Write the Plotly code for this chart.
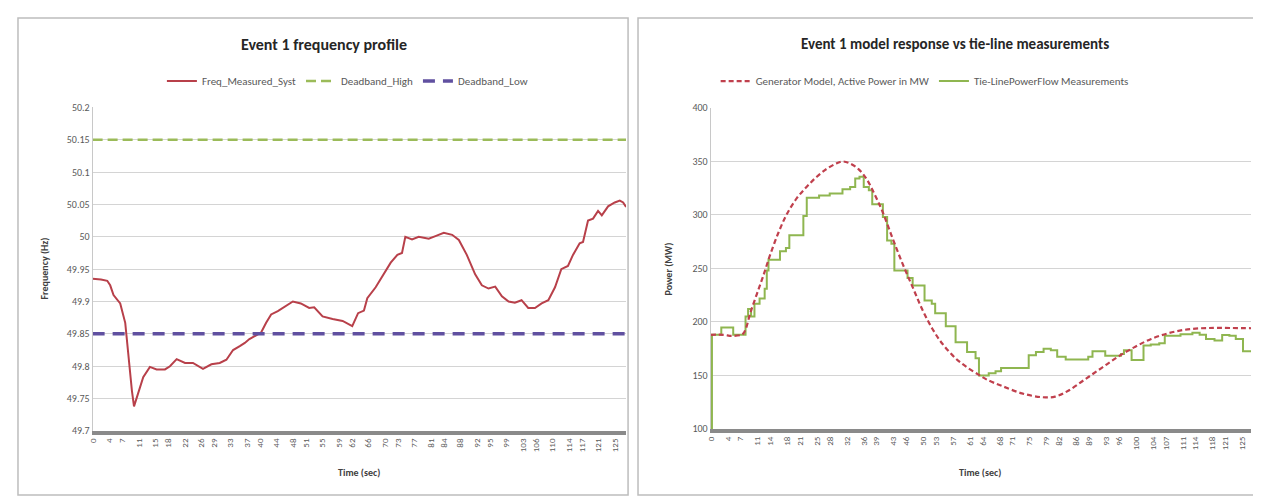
import plotly.graph_objects as go

W, H = 1261, 497

# ---------------- data: left chart (frequency) ----------------
freq_time = [0, 2, 3.5, 4.2, 5, 6.6, 7.8, 8.6, 9.4, 9.9, 10.9, 12.1, 13.7, 15.3, 17.3, 18.5,
             20.1, 22.1, 24.0, 26.4, 28.4, 30.4, 32, 33.6, 35.2, 36.4, 37.5, 39.1, 40.3, 41.5,
             42.7, 44.3, 46.3, 47.9, 49.8, 51.8, 53, 55, 57.4, 59.8, 62.1, 63.5, 64.9, 65.7,
             67.7, 70.1, 71.3, 72.9, 74.0, 74.8, 76.4, 78, 80.4, 82, 84, 86, 87.6, 89.5, 91.5,
             93.1, 94.7, 96.3, 97.9, 99.5, 101, 102.6, 104.2, 105.8, 107.4, 109, 110.6, 112.1,
             113.7, 114.9, 116.5, 117.3, 118.5, 119.7, 120.9, 121.8, 123.3, 124.9, 126.1,
             126.9, 127.6]
freq_measured = [49.935, 49.934, 49.932, 49.925, 49.91, 49.897, 49.867, 49.81, 49.762, 49.738,
                 49.757, 49.783, 49.799, 49.795, 49.795, 49.80, 49.811, 49.805, 49.805, 49.796,
                 49.803, 49.805, 49.81, 49.825, 49.831, 49.836, 49.842, 49.848, 49.852, 49.867,
                 49.88, 49.885, 49.893, 49.90, 49.897, 49.89, 49.891, 49.877, 49.873, 49.87,
                 49.862, 49.882, 49.886, 49.905, 49.922, 49.947, 49.96, 49.972, 49.975, 50.0,
                 49.996, 50.0, 49.997, 50.001, 50.006, 50.003, 49.995, 49.972, 49.942, 49.925,
                 49.92, 49.923, 49.908, 49.90, 49.898, 49.902, 49.89, 49.89, 49.897, 49.902,
                 49.922, 49.95, 49.955, 49.972, 49.99, 49.992, 50.025, 50.028, 50.04, 50.033,
                 50.047, 50.053, 50.056, 50.053, 50.046]
deadband_time = [0, 127.6]
deadband_high = [50.15, 50.15]
deadband_low = [49.85, 49.85]
left_ticks = [0, 4, 7, 11, 15, 18, 22, 26, 29, 33, 37, 40, 44, 48, 51, 55, 59, 62, 66, 70,
              73, 77, 81, 84, 88, 92, 95, 99, 103, 106, 110, 114, 117, 121, 125]
left_yticks = [49.7, 49.75, 49.8, 49.85, 49.9, 49.95, 50.0, 50.05, 50.1, 50.15, 50.2]
left_ytext = ["49.7", "49.75", "49.8", "49.85", "49.9", "49.95", "50", "50.05", "50.1", "50.15", "50.2"]

# ---------------- data: right chart (power) ----------------
model_time = [0, 3, 5, 7.5, 8.2, 9.3, 10.9, 12.5, 14, 16, 17.9, 20.3, 22.6, 24.9, 27.3, 29.6,
              31.1, 32.7, 34.7, 36.6, 38.6, 40.5, 42.8, 45.2, 47.5, 49.8, 52.2, 54.5, 57.6, 60,
              63.1, 65, 68.5, 73.2, 77.9, 81, 84.1, 88, 91.9, 95.8, 99.7, 103.6, 107.5, 111.4,
              115.3, 119.2, 127.1]
model_power = [188, 188, 187, 188.5, 193, 208, 226.5, 244.6, 262.8, 284, 300.6, 315.8, 326.3,
               335.4, 343, 348.1, 349.9, 348.1, 343, 333.9, 318.8, 302.2, 277.9, 253.7, 232.5,
               211.4, 193.2, 179.6, 166, 158.4, 150.5, 146, 140.2, 133.3, 129.7, 130.2, 135.7,
               146.3, 156.9, 167.5, 176.5, 184.1, 189.3, 192.6, 194.1, 194.4, 194.1]
tie_time = [0, 0.3, 2.5, 5.3, 8.2, 8.8, 9.5, 10.3, 11.5, 12.7, 13.2, 13.6, 16.3, 17.7, 18.5,
            21.8, 22.6, 25.5, 28, 31, 32.8, 34, 35, 36, 37.2, 38, 40.5, 41.5, 42.5, 43.2, 46.3,
            47.5, 50.3, 52, 52.8, 55.3, 57.6, 60.3, 62.3, 63.1, 65.4, 67, 68.3, 74.8, 76.5,
            78.3, 80, 81.5, 83.5, 88.8, 89.8, 92.8, 96.5, 97.2, 99, 101.8, 103.5, 105.5, 106.8,
            110.5, 113.3, 115, 116.5, 118.5, 120.3, 122, 123.5, 125.2, 127.1]
tie_power = [100, 188, 194.7, 188, 205, 212, 205, 217, 222, 231, 248, 258, 266, 269, 281,
             299, 316, 318, 320, 324, 326, 334, 335.5, 326, 323, 310, 298, 276, 273, 248, 241,
             234, 220, 217, 208, 196, 181, 172, 166, 150, 152, 154, 157, 169, 172, 175, 173.5,
             167.5, 165, 167.5, 172.6, 168.4, 170, 173.5, 164.5, 178, 179, 180, 187, 188.6,
             190, 188, 184, 182.6, 187.8, 187, 184, 172.6, 172.6]
right_ticks = [0, 4, 7, 11, 14, 18, 21, 25, 28, 32, 36, 39, 43, 46, 50, 53, 57, 61, 64, 68,
               71, 75, 79, 82, 86, 89, 93, 96, 100, 104, 107, 111, 114, 118, 121, 125]
right_yticks = [100, 150, 200, 250, 300, 350, 400]

# ---------------- styling ----------------
FONT = "Carlito, 'Liberation Sans Narrow', 'Liberation Sans', Arial, sans-serif"
TXT = "#595959"
GRID = "#d4d4d4"


def px(x):
    return x / W


def py(y):
    return 1 - y / H


fig = go.Figure()

fig.add_trace(go.Scatter(x=freq_time, y=freq_measured, mode="lines", name="Freq_Measured_Syst",
                         line=dict(color="#B8404A", width=2), xaxis="x", yaxis="y", legend="legend"))
fig.add_trace(go.Scatter(x=deadband_time, y=deadband_high, mode="lines", name="Deadband_High",
                         line=dict(color="#9BBB59", width=2.5, dash="10px,5px"),
                         xaxis="x", yaxis="y", legend="legend"))
fig.add_trace(go.Scatter(x=deadband_time, y=deadband_low, mode="lines", name="Deadband_Low",
                         line=dict(color="#6050A0", width=3.5, dash="12px,8px"),
                         xaxis="x", yaxis="y", legend="legend"))

fig.add_trace(go.Scatter(x=tie_time, y=tie_power, mode="lines", name="Tie-LinePowerFlow Measurements",
                         line=dict(color="#8FB650", width=2, shape="hv"),
                         xaxis="x2", yaxis="y2", legend="legend2"))
fig.add_trace(go.Scatter(x=model_time, y=model_power, mode="lines",
                         name="Generator Model, Active Power in MW",
                         line=dict(color="#C0404D", width=2.2, dash="5px,3px", shape="spline"),
                         xaxis="x2", yaxis="y2", legend="legend2"))

xcommon = dict(tickangle=-90, tickfont=dict(family=FONT, size=9, color=TXT), showgrid=False,
               showline=True, linecolor="#8a8a8a", linewidth=4, ticks="", zeroline=False,
               fixedrange=True)
ycommon = dict(tickfont=dict(family=FONT, size=10, color=TXT), showgrid=True, gridcolor=GRID,
               gridwidth=1, showline=True, linecolor="#c8c8c8", linewidth=1, ticks="",
               zeroline=False, fixedrange=True)

fig.update_layout(
    width=W, height=H, margin=dict(l=0, r=0, t=0, b=0),
    paper_bgcolor="white", plot_bgcolor="white",
    xaxis=dict(xcommon, domain=[px(79), px(615)], range=[0, 127.6], anchor="y",
               tickmode="array", tickvals=left_ticks, ticktext=[str(v) for v in left_ticks]),
    yaxis=dict(ycommon, domain=[py(428), py(95)], range=[49.7, 50.2], anchor="x",
               tickmode="array", tickvals=left_yticks, ticktext=left_ytext),
    xaxis2=dict(xcommon, domain=[px(700), px(1243)], range=[0, 127.1], anchor="y2",
                tickmode="array", tickvals=right_ticks, ticktext=[str(v) for v in right_ticks]),
    yaxis2=dict(ycommon, domain=[py(426), py(95.5)], range=[100, 400], anchor="x2",
                tickmode="array", tickvals=right_yticks, ticktext=[str(v) for v in right_yticks]),
    legend=dict(orientation="h", x=px(335), y=py(68), xanchor="center", yanchor="middle",
                font=dict(family=FONT, size=11, color=TXT), bgcolor="rgba(0,0,0,0)",
                itemwidth=30, traceorder="normal"),
    legend2=dict(orientation="h", x=px(915), y=py(68), xanchor="center", yanchor="middle",
                 font=dict(family=FONT, size=11, color=TXT), bgcolor="rgba(0,0,0,0)",
                 itemwidth=30, traceorder="reversed"),
    showlegend=True,
)

# panel borders
fig.add_shape(type="rect", xref="paper", yref="paper", x0=px(4), x1=px(617), y0=py(494), y1=py(3),
              line=dict(color="#bdbdbd", width=1.5), layer="below")
fig.add_shape(type="rect", xref="paper", yref="paper", x0=px(627), x1=px(1257), y0=py(494), y1=py(3),
              line=dict(color="#bdbdbd", width=1.5), layer="below")

# titles
fig.add_annotation(text="<b>Event 1 frequency profile</b>", xref="paper", yref="paper",
                   x=px(311), y=py(30), showarrow=False, xanchor="center", yanchor="middle",
                   font=dict(family=FONT, size=16, color="#262626"))
fig.add_annotation(text="<b>Event 1 model response vs tie-line measurements</b>", xref="paper",
                   yref="paper", x=px(945), y=py(30), showarrow=False, xanchor="center",
                   yanchor="middle", font=dict(family=FONT, size=15, color="#262626"))
# axis titles
for xx, txt in [(347, "Time (sec)"), (971, "Time (sec)")]:
    fig.add_annotation(text="<b>" + txt + "</b>", xref="paper", yref="paper", x=px(xx), y=py(471),
                       showarrow=False, xanchor="center", yanchor="middle",
                       font=dict(family=FONT, size=10, color="#404040"))
fig.add_annotation(text="<b>Frequency (Hz)</b>", xref="paper", yref="paper", x=px(31), y=py(261),
                   showarrow=False, textangle=-90, xanchor="center", yanchor="middle",
                   font=dict(family=FONT, size=10, color="#404040"))
fig.add_annotation(text="<b>Power (MW)</b>", xref="paper", yref="paper", x=px(658), y=py(261),
                   showarrow=False, textangle=-90, xanchor="center", yanchor="middle",
                   font=dict(family=FONT, size=10, color="#404040"))

fig.write_html("out.html")
